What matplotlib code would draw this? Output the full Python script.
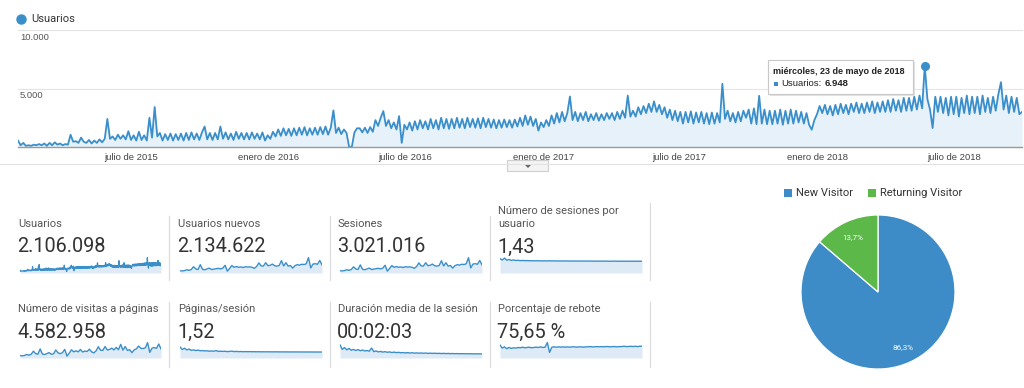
import matplotlib
matplotlib.use('Agg')
import matplotlib.pyplot as plt
import numpy as np
import pandas as pd
from matplotlib.patches import Rectangle, FancyBboxPatch, Polygon
from matplotlib.lines import Line2D

# ---------------- data ----------------
# Usuarios, one value every 3.5 days starting 2015-02-01
u2015 = [550, 150, 350, 100, 150, 100, 200, 150,
         250, 150, 300, 100, 350, 150, 400, 200, 300,
         150, 250, 200, 1050, 450, 500, 350, 800, 450,
         350, 600, 300, 550, 350, 650, 400, 700, 2400,
         700, 900, 600, 1050, 700, 1000, 650, 1350,
         600, 1000, 550, 1300, 600, 1000, 550, 2500, 800,
         3420, 900, 1200, 550, 1100, 600, 1150, 550, 1100,
         600, 1150, 550, 1200, 600, 1250, 650, 1150,
         600, 1250, 1750, 650, 1200, 600, 1200, 650, 1750,
         700, 1250, 650, 1150, 600, 1300, 700, 1200, 650,
         1200, 650, 1250, 700, 1150, 650, 1250, 550, 1000]
u2016 = [700, 1300, 900, 1500, 950, 1600, 1000, 1550, 950,
         1600, 1000, 1650, 1050, 1700, 1000, 1600, 1050,
         1650, 1050, 1700, 1100, 1750, 1050, 1650, 3130, 1200,
         1650, 1100, 1500, 1200, 0, 0, 1250, 1600,
         1600, 1250, 1650, 1200, 1700, 1300, 2300, 1800, 2500,
         3070, 1800, 2300, 1600, 2100, 1500, 2640, 350, 1900,
         1500, 2100, 1400, 2200, 1500, 2300, 1600, 2200, 1500,
         2400, 1600, 2300, 1500, 2500, 1600, 2400, 1550,
         2400, 1600, 2500, 1650, 2400, 1600, 2500, 1700, 2400,
         1650, 2450, 1600, 2500, 1700, 2400, 1650, 2350, 1600,
         2300, 1650, 2350, 1700, 2300, 1650, 2350, 1750,
         2500, 1800, 2700, 1900, 2600, 1800, 2400, 1400, 2100]
u2017 = [1700, 2300, 1800, 2700, 2000, 2900, 2100, 3000, 2200,
         2900, 4320, 2300, 3000, 2200, 2900, 2300, 3000,
         2200, 2800, 2300, 2900, 2250, 2800, 2300, 2900, 2400,
         2900, 2300, 3000, 2400, 3100, 2500, 4400, 2600,
         3100, 2600, 3400, 2800, 3500, 2900, 3700, 3000, 3900,
         3000, 3600, 2800, 3400, 2500, 3200, 2300, 3100, 2200,
         3000, 2000, 3000, 2100, 3050, 2000, 2950, 2100, 3000,
         2000, 2900, 1950, 2950, 2000, 2900, 2100, 5400,
         2400, 3100, 2200, 2900, 2100, 3000, 2200, 3100, 2500,
         3200, 2000, 3300, 1950, 4380, 2000, 3200, 1950, 3100,
         1950, 3100, 2000, 3200, 1900, 3100, 2000, 3200, 2000,
         3100, 2100, 3000, 2000, 2900, 1900, 1480, 2300]
u2018 = [2800, 3500, 2900, 3600, 2800, 3500, 2700, 3600, 2800,
         3700, 2900, 3600, 2800, 3700, 3000, 3800, 2900,
         3700, 2900, 3800, 3000, 3900, 2900, 3800, 3000, 3900,
         3000, 4000, 3000, 4100, 3100, 4000, 3000, 4200, 3100,
         4200, 3100, 4300, 3200, 4400, 3300, 6948, 4100, 3200,
         1620, 4300, 3000, 4300, 2900, 4200, 2700, 4300,
         2800, 4300, 2600, 4200, 2900, 4400, 2800, 4300, 2900,
         4300, 2800, 4400, 3000, 4200, 2900, 4300, 3100, 4500,
         5540, 3200, 4400, 2900, 4300, 3000, 4200, 2800, 3000]
usuarios = u2015 + u2016 + u2017 + u2018
start_date = '2015-02-01'
end_date = '2018-09-30'

x_tick_dates = ['2015-07-01', '2016-01-01', '2016-07-01', '2017-01-01',
                '2017-07-01', '2018-01-01', '2018-07-01']
x_tick_labels = ['julio de 2015', 'enero de 2016', 'julio de 2016', 'enero de 2017',
                 'julio de 2017', 'enero de 2018', 'julio de 2018']
y_ticks = [5000, 10000]
y_tick_labels = ['5.000', '10.000']
tooltip_date = 'miércoles, 23 de mayo de 2018'

card_titles = ['Usuarios', 'Usuarios nuevos', 'Sesiones', 'Número de sesiones por\nusuario',
               'Número de visitas a páginas', 'Páginas/sesión',
               'Duración media de la sesión', 'Porcentaje de rebote']
card_values = ['2.106.098', '2.134.622', '3.021.016', '1,43',
               '4.582.958', '1,52', '00:02:03', '75,65 %']

usuarios_nuevos = [300, 200, 350, 800, 500, 900, 2300, 1200, 900, 3300,
                   1000, 800, 1200, 1600, 900, 1100, 1300, 1500, 1200, 1600,
                   3000, 100, 1400, 2900, 2000, 2400, 2000, 2200, 1900, 2300,
                   2100, 2200, 2000, 1500, 2400, 4200, 2700, 2600, 4300, 2800,
                   3000, 3600, 2800, 2600, 2900, 5300, 2700, 4300, 2600, 2900,
                   1600, 2800, 3300, 3100, 3500, 3400, 3700, 6800, 1700, 3600,
                   3800, 3500, 5400, 3200]
sesiones = [450, 300, 500, 1150, 700, 1300, 3200, 1700, 1300, 4600,
            1450, 1150, 1700, 2300, 1300, 1600, 1850, 2150, 1700, 2300,
            4300, 150, 2000, 4100, 2850, 3400, 2850, 3150, 2700, 3300,
            3000, 3150, 2850, 2150, 3450, 6000, 3850, 3700, 6100, 4000,
            4300, 5150, 4000, 3700, 4150, 7500, 3850, 6100, 3700, 4150,
            2300, 4000, 4700, 4450, 5000, 4850, 5300, 9700, 2450, 5150,
            5450, 5000, 7700, 4600]
sesiones_por_usuario = [1.72, 1.55, 1.78, 1.52, 1.62, 1.50, 1.56, 1.49, 1.52, 1.47,
                        1.50, 1.47, 1.48, 1.46, 1.47, 1.45, 1.46, 1.45, 1.46, 1.44,
                        1.45, 1.44, 1.46, 1.44, 1.45, 1.43, 1.44, 1.43, 1.44, 1.43,
                        1.44, 1.42, 1.43, 1.43, 1.42, 1.43, 1.42, 1.43, 1.42, 1.42,
                        1.43, 1.41, 1.42, 1.42, 1.41, 1.42, 1.41, 1.42, 1.41, 1.40,
                        1.41, 1.42, 1.40, 1.41, 1.40, 1.41, 1.40, 1.41, 1.40, 1.40,
                        1.41, 1.40, 1.41, 1.40]
visitas_paginas = [750, 500, 850, 1800, 1100, 2000, 4900, 2600, 2000, 7000,
                   2200, 1750, 2600, 3500, 2000, 2400, 6000, 3300, 2600, 3500,
                   6600, 200, 3000, 6200, 4300, 5200, 4300, 6500, 4100, 5000,
                   4600, 6800, 4300, 3300, 5200, 9100, 5800, 5600, 9300, 6100,
                   6500, 7800, 6100, 8500, 6300, 11400, 5900, 9300, 5600, 6300,
                   3500, 6100, 7100, 9800, 7600, 7400, 8100, 13000, 3700, 7800,
                   8300, 7600, 11700, 7000]
paginas_por_sesion = [2.6, 2.0, 2.3, 1.9, 2.1, 1.8, 1.9, 1.75, 1.85, 1.7,
                      1.75, 1.65, 1.7, 1.6, 1.65, 1.6, 1.75, 1.55, 1.6, 1.55,
                      1.58, 1.5, 1.55, 1.62, 1.5, 1.55, 1.5, 1.52, 1.48, 1.5,
                      1.48, 1.5, 1.47, 1.48, 1.46, 1.47, 1.45, 1.46, 1.45, 1.46,
                      1.44, 1.45, 1.44, 1.45, 1.43, 1.44, 1.43, 1.44, 1.42, 1.43,
                      1.42, 1.43, 1.42, 1.42, 1.41, 1.42, 1.41, 1.42, 1.41, 1.41,
                      1.40, 1.41, 1.40, 1.41]
duracion_seg = [300, 200, 240, 190, 220, 180, 200, 175, 195, 170,
                185, 165, 175, 160, 230, 150, 165, 145, 155, 140,
                150, 135, 145, 130, 140, 128, 135, 125, 130, 122,
                128, 120, 125, 118, 122, 116, 120, 115, 118, 113,
                116, 112, 115, 110, 113, 108, 112, 107, 110, 106,
                108, 105, 107, 104, 106, 103, 105, 102, 104, 101,
                103, 100, 102, 100]
rebote = [82, 72, 76, 70, 74, 71, 73, 72, 74, 73,
          75, 73, 74, 75, 73, 74, 75, 74, 76, 74,
          75, 90, 58, 75, 76, 75, 76, 75, 76, 75,
          76, 75, 76, 76, 75, 76, 76, 75, 76, 76,
          77, 76, 76, 77, 76, 77, 76, 77, 77, 76,
          77, 77, 76, 77, 77, 78, 77, 77, 78, 77,
          78, 77, 78, 78]

pie_labels = ['New Visitor', 'Returning Visitor']
pie_values = [86.3, 13.7]

# ---------------- style ----------------
BLUE = '#3a8fcb'
FILL = '#e6f1fa'
PIE_BLUE = '#3d8cc7'
PIE_GREEN = '#5cb848'
W, H = 1024, 388
CHART_FONT = ['Liberation Sans', 'DejaVu Sans']
CARD_FONT = ['Roboto', 'DejaVu Sans']

fig = plt.figure(figsize=(W / 100, H / 100), dpi=100)
fig.patch.set_facecolor('white')
renderer = fig.canvas.get_renderer()


def fx(x):
    return x / W


def fy(y):
    return 1 - y / H


def rect(x0, y0, x1, y1):
    return [x0 / W, 1 - y1 / H, (x1 - x0) / W, (y1 - y0) / H]


# ---------------- main chart ----------------
dates = pd.date_range(start_date, periods=len(usuarios), freq='84h')
vals = np.array(usuarios, dtype=float)

ax = fig.add_axes(rect(18, 30, 1022, 147))
ax.set_facecolor('none')
ax.fill_between(dates, vals, 0, color=FILL, lw=0, zorder=1)
ax.plot(dates, vals, color=BLUE, lw=1.3, zorder=3, solid_joinstyle='round')
ax.set_xlim(pd.Timestamp(start_date), pd.Timestamp(end_date))
ax.set_ylim(0, max(y_ticks))
for s in ax.spines.values():
    s.set_visible(False)
for yt in y_ticks:
    ax.axhline(yt, color='#e4e4e4', lw=0.8, zorder=0, clip_on=False)
ax.axhline(0, color='#9a9a9a', lw=1.0, zorder=4, clip_on=False)
ax.set_yticks([])
ax.set_xticks(pd.to_datetime(x_tick_dates))
ax.set_xticklabels(x_tick_labels, family=CHART_FONT, fontsize=6.8, color='#444444')
ax.tick_params(axis='x', length=0, pad=4.0)
for yt, lab in zip(y_ticks, y_tick_labels):
    ax.annotate(lab, xy=(0, yt), xycoords=('axes fraction', 'data'),
                xytext=(2, -3), textcoords='offset pixels', va='top', ha='left',
                family=CHART_FONT, fontsize=6.8, color='#555555')

# peak point + tooltip
ipk = int(np.argmax(vals))
ax.plot([dates[ipk]], [vals[ipk]], 'o', ms=5.5, color=BLUE, zorder=5, clip_on=False)

shadow = FancyBboxPatch((fx(770), fy(96)), fx(915) - fx(770), fy(62) - fy(96),
                        boxstyle='square,pad=0', transform=fig.transFigure,
                        facecolor='#e2e2e2', edgecolor='none', zorder=8)
box = FancyBboxPatch((fx(768), fy(94)), fx(913) - fx(768), fy(60) - fy(94),
                     boxstyle='square,pad=0', transform=fig.transFigure,
                     facecolor='white', edgecolor='#c8c8c8', lw=0.8, zorder=9)
fig.add_artist(shadow)
fig.add_artist(box)
fig.text(fx(773), fy(71.5), tooltip_date, family=CHART_FONT, fontsize=6.5,
         weight='bold', color='#222222', va='center', ha='left', zorder=10)
fig.add_artist(Rectangle((fx(774), fy(85.5)), 4 / W, 4 / H, transform=fig.transFigure,
                         facecolor=BLUE, edgecolor='none', zorder=10))
t_lab = fig.text(fx(781), fy(83.5), 'Usuarios:', family=CHART_FONT, fontsize=6.8,
                 color='#222222', va='center', ha='left', zorder=10)
bb = t_lab.get_window_extent(renderer)
pk_txt = f'{int(vals[ipk]):,}'.replace(',', '.')
fig.text(bb.x1 / W + 3 / W, fy(83.5), pk_txt, family=CHART_FONT, fontsize=6.8,
         weight='bold', color='#222222', va='center', ha='left', zorder=10)

# legend of main chart
fig.add_artist(Line2D([fx(21)], [fy(19)], marker='o', ms=6.5, color=BLUE,
                      transform=fig.transFigure, lw=0))
fig.text(fx(31), fy(19), 'Usuarios', family=CARD_FONT, fontsize=8, color='#333333',
         va='center', ha='left')

# separator line and dropdown tab
fig.add_artist(Line2D([0, 1], [fy(164), fy(164)], color='#e2e2e2', lw=0.8,
                      transform=fig.transFigure))
fig.add_artist(FancyBboxPatch((fx(507), fy(171)), fx(548) - fx(507), fy(160) - fy(171),
                              boxstyle='square,pad=0', transform=fig.transFigure,
                              facecolor='#f4f4f4', edgecolor='#cfcfcf', lw=0.8))
fig.add_artist(Polygon([[fx(525), fy(165)], [fx(531), fy(165)], [fx(528), fy(168)]],
                       closed=True, transform=fig.transFigure, facecolor='#666666',
                       edgecolor='none'))

# ---------------- scorecards ----------------
spark_series = [usuarios, usuarios_nuevos, sesiones, sesiones_por_usuario,
                visitas_paginas, paginas_por_sesion, duracion_seg, rebote]


def count_lim(v):
    m = max(v)
    return (-0.12 * m, 1.12 * m)


spark_ylims = [count_lim(usuarios), count_lim(usuarios_nuevos), count_lim(sesiones),
               (0, 2.03), count_lim(visitas_paginas), (0, 4.0), (10, 385), (40, 95)]

col_x = [18, 178, 338, 498]
title_base = [227, 312.5]
value_base = [252.5, 337.5]
spark_y = [(256, 273), (341, 358)]
spark_x = [(20, 161), (180, 322), (340, 482), (500, 642)]

for i, (title, value, series, ylim) in enumerate(zip(card_titles, card_values,
                                                     spark_series, spark_ylims)):
    r, c = divmod(i, 4)
    lines = title.split('\n')
    for k, line in enumerate(reversed(lines)):
        fig.text(fx(col_x[c]), fy(title_base[r] - 13 * k), line, family=CARD_FONT,
                 fontsize=8, color='#555555', va='baseline', ha='left')
    fig.text(fx(col_x[c] - 1), fy(value_base[r]), value, family=CARD_FONT,
             fontsize=14.3, color='#333333', va='baseline', ha='left')
    sx0, sx1 = spark_x[c]
    sy0, sy1 = spark_y[r]
    sa = fig.add_axes(rect(sx0, sy0, sx1, sy1))
    xs = np.arange(len(series))
    ys = np.array(series, dtype=float)
    sa.fill_between(xs, ys, ylim[0], color='#deebf7', lw=0)
    sa.plot(xs, ys, color=BLUE, lw=0.9 if len(series) > 100 else 1.0)
    sa.set_xlim(0, len(series) - 1)
    sa.set_ylim(*ylim)
    sa.axis('off')

# separators
for xs_, (ya, yb) in zip([169, 330, 490, 650], [(216, 280)] * 3 + [(203, 280)]):
    fig.add_artist(Line2D([fx(xs_)] * 2, [fy(ya), fy(yb)], color='#dddddd', lw=0.9,
                          transform=fig.transFigure))
for xs_ in [169, 330, 490, 650]:
    fig.add_artist(Line2D([fx(xs_)] * 2, [fy(302), fy(367)], color='#dddddd', lw=0.9,
                          transform=fig.transFigure))

# ---------------- pie ----------------
pa = fig.add_axes(rect(801, 215, 955, 369))
wedges, texts, autotexts = pa.pie(
    pie_values, colors=[PIE_BLUE, PIE_GREEN], startangle=90, counterclock=False,
    autopct=lambda p: f'{p:.1f}%'.replace('.', ','), pctdistance=0.79,
    wedgeprops=dict(edgecolor='white', linewidth=0.9),
    textprops=dict(color='white', fontsize=5.8, family=CARD_FONT))
pa.set_xlim(-1.0, 1.0)
pa.set_ylim(-1.0, 1.0)
pa.set_aspect('equal')

# pie legend
for lab, col, x0 in zip(pie_labels, [PIE_BLUE, PIE_GREEN], [784, 868]):
    fig.add_artist(Rectangle((fx(x0), fy(197)), 8 / W, 8 / H, transform=fig.transFigure,
                             facecolor=col, edgecolor='none'))
    fig.text(fx(x0 + 12), fy(193), lab, family=CARD_FONT, fontsize=8, color='#333333',
             va='center', ha='left')

fig.savefig('out.png', dpi=100, facecolor='white')
